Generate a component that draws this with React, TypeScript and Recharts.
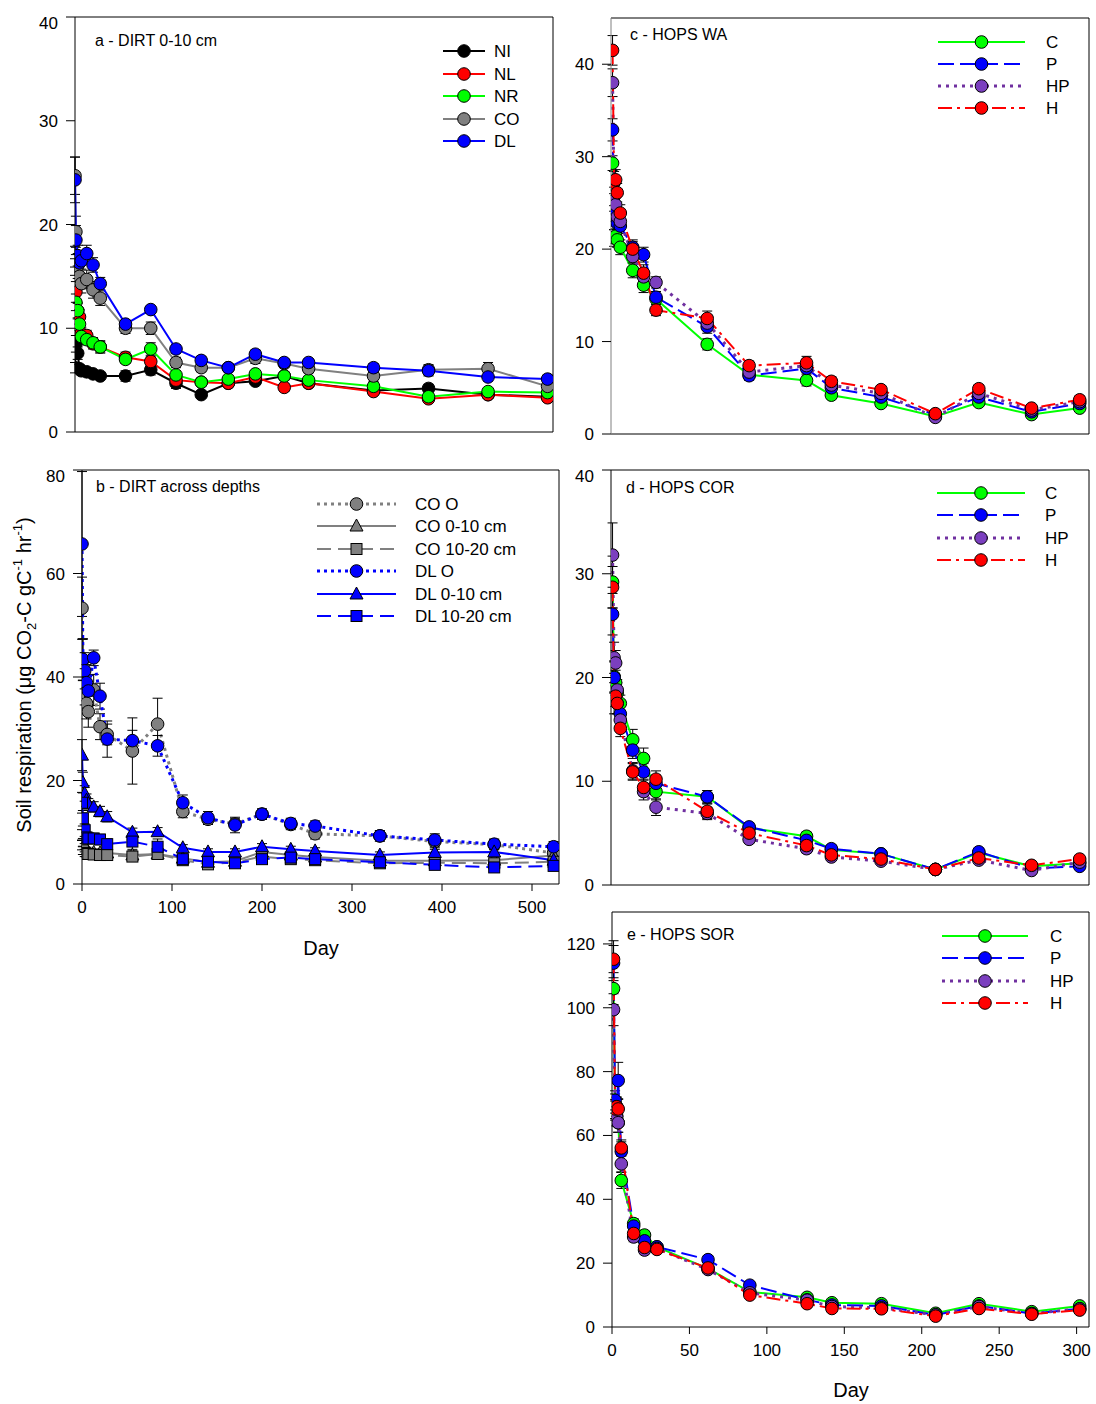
import React from 'react';
import { LineChart, Line, XAxis, YAxis, ErrorBar, ReferenceLine } from 'recharts';

// ---------- DIRT (panels a, b) ----------
const DIRT_DAYS = [0, 1, 3, 5, 7, 13, 20, 28, 56, 84, 112, 140, 170, 200, 232, 259, 331, 392, 458, 524];

const A_NI = [6.2, 8.5, 7.6, 6.1, 5.9, 5.8, 5.6, 5.4, 5.4, 6.0, 4.7, 3.6, 4.7, 4.9, 5.4, 4.7, 4.0, 4.2, 3.6, 3.4];
const A_NL = [16.9, 13.5, 11.7, 11.1, 9.5, 9.3, 8.5, 8.2, 7.2, 6.8, 5.0, 4.8, 4.7, 5.3, 4.3, 4.7, 3.9, 3.2, 3.6, 3.3];
const A_NR = [15.9, 12.5, 11.7, 10.4, 9.2, 8.9, 8.6, 8.2, 7.0, 8.0, 5.5, 4.8, 5.1, 5.6, 5.4, 5.0, 4.4, 3.4, 3.9, 3.8];
const A_CO = [24.7, 19.3, 16.0, 15.0, 14.3, 14.7, 13.7, 12.9, 10.0, 10.0, 6.7, 6.2, 6.2, 7.1, 6.6, 6.1, 5.4, 6.0, 6.1, 4.4];
const A_DL = [24.3, 18.5, 17.0, 16.3, 16.5, 17.2, 16.1, 14.3, 10.4, 11.8, 8.0, 6.9, 6.2, 7.5, 6.7, 6.7, 6.2, 5.9, 5.3, 5.1];

const A_NI_ERR = [0.5, 0.8, 0.6, 0.4, 0.4, 0.3, 0.3, 0.3, 0.5, 0.5, 0.5, 0.3, 0.3, 0.3, 0.3, 0.4, 0.4, 0.4, 0.3, 0.3];
const A_NL_ERR = [1.0, 1.0, 0.8, 0.7, 0.6, 0.5, 0.5, 0.5, 0.5, 0.5, 0.5, 0.3, 0.3, 0.3, 0.4, 0.3, 0.3, 0.3, 0.3, 0.3];
const A_NR_ERR = [0.8, 0.8, 0.7, 0.6, 0.5, 0.5, 0.5, 0.6, 0.4, 0.6, 0.4, 0.4, 0.3, 0.3, 0.4, 0.3, 0.4, 0.4, 0.3, 0.3];
const A_CO_ERR = [1.8, 1.5, 1.2, 1.0, 0.9, 0.9, 0.8, 0.7, 0.5, 0.6, 0.5, 0.4, 0.4, 0.5, 0.4, 0.4, 0.5, 0.5, 0.6, 0.4];
const A_DL_ERR = [2.2, 1.4, 1.0, 0.9, 0.8, 0.8, 0.7, 0.6, 0.4, 0.3, 0.4, 0.4, 0.3, 0.4, 0.3, 0.3, 0.4, 0.5, 0.4, 0.4];

const B_CO_O = [53.3, 43.3, 38.1, 34.9, 33.3, 37.5, 30.4, 28.9, 25.7, 30.9, 14.0, 12.5, 11.6, 13.5, 11.5, 9.7, 9.3, 8.2, 7.6, 6.0];
const B_CO_010 = [9.5, 8.0, 7.0, 6.5, 6.2, 6.1, 6.0, 6.0, 5.6, 5.8, 5.0, 4.2, 4.4, 6.2, 5.6, 5.2, 4.5, 4.5, 4.6, 5.5];
const B_CO_1020 = [7.5, 6.5, 6.0, 5.8, 5.8, 5.7, 5.6, 5.6, 5.3, 5.8, 4.6, 3.8, 4.2, 5.3, 4.8, 4.6, 4.0, 4.1, 4.0, 4.3];
const B_DL_O = [65.7, 43.4, 41.2, 38.9, 37.3, 43.7, 36.3, 28.0, 27.7, 26.7, 15.7, 12.8, 11.4, 13.5, 11.7, 11.2, 9.3, 8.5, 7.7, 7.2];
const B_DL_010 = [24.9, 19.6, 17.5, 16.2, 15.5, 14.9, 14.0, 13.0, 10.0, 10.1, 7.0, 6.2, 6.2, 7.2, 6.7, 6.4, 5.6, 6.1, 6.2, 4.6];
const B_DL_1020 = [15.7, 12.7, 10.4, 9.0, 8.8, 8.8, 8.6, 7.7, 8.2, 7.2, 4.8, 4.3, 4.0, 4.8, 5.1, 4.8, 4.2, 3.7, 3.2, 3.5];

const B_CO_O_ERR = [6.0, 4.0, 3.5, 3.0, 3.0, 3.0, 2.5, 2.0, 6.4, 5.0, 1.2, 1.0, 1.0, 1.0, 1.0, 1.0, 1.0, 1.2, 1.0, 1.0];
const B_CO_010_ERR = [1.0, 0.8, 0.8, 0.6, 0.6, 0.6, 0.6, 0.6, 0.8, 0.8, 0.6, 0.6, 0.6, 0.6, 0.6, 0.6, 0.6, 0.6, 0.6, 0.6];
const B_CO_1020_ERR = [0.9, 0.8, 0.7, 0.6, 0.6, 0.6, 0.6, 0.6, 0.8, 0.8, 0.6, 0.6, 0.6, 0.6, 0.6, 0.6, 0.6, 0.6, 0.6, 0.6];
const B_DL_O_ERR = [14.0, 4.0, 3.5, 3.5, 3.0, 1.5, 2.5, 3.5, 2.0, 2.0, 1.5, 1.2, 1.5, 1.0, 1.0, 1.0, 1.0, 1.2, 1.0, 1.0];
const B_DL_010_ERR = [3.0, 2.0, 1.5, 1.2, 1.0, 1.0, 1.0, 1.0, 0.8, 0.8, 0.6, 0.6, 0.6, 0.6, 0.6, 0.6, 0.6, 0.6, 0.6, 0.6];
const B_DL_1020_ERR = [2.0, 1.5, 1.2, 1.0, 1.0, 1.0, 1.0, 1.0, 1.5, 1.5, 0.6, 0.6, 0.6, 0.6, 0.6, 0.6, 0.6, 0.6, 0.6, 0.6];

// ---------- HOPS (panels c, d, e) ----------
const HOPS_DAYS = [1, 2, 3, 4, 6, 14, 21, 29, 62, 89, 126, 142, 174, 209, 237, 271, 302];

const C_C = [29.3, 21.2, 21.4, 21.0, 20.2, 17.7, 16.1, 14.6, 9.7, 6.4, 5.8, 4.2, 3.3, 1.9, 3.4, 2.1, 2.8];
const C_P = [32.9, 23.1, 23.9, 22.8, 22.5, 20.2, 19.4, 14.8, 11.6, 6.3, 7.1, 5.0, 4.0, 2.1, 4.0, 2.4, 3.3];
const C_HP = [38.0, 25.7, 24.8, 23.5, 23.0, 19.2, 17.0, 16.4, 12.0, 6.7, 7.4, 5.3, 4.4, 1.8, 4.4, 2.6, 3.5];
const C_H = [41.5, 27.2, 27.5, 26.1, 23.9, 20.0, 17.4, 13.4, 12.5, 7.4, 7.7, 5.7, 4.8, 2.2, 4.9, 2.8, 3.7];
const C_C_ERR = [0.8, 0.9, 0.8, 0.8, 0.8, 0.8, 0.8, 0.8, 0.6, 0.5, 0.6, 0.4, 0.3, 0.3, 0.3, 0.3, 0.3];
const C_P_ERR = [1.2, 1.0, 0.9, 0.9, 0.8, 0.8, 0.8, 0.6, 0.7, 0.5, 0.5, 0.5, 0.4, 0.3, 0.4, 0.3, 0.3];
const C_HP_ERR = [1.5, 1.0, 1.0, 0.9, 0.9, 0.7, 0.8, 0.6, 0.7, 0.5, 0.6, 0.5, 0.4, 0.3, 0.4, 0.3, 0.3];
const C_H_ERR = [1.6, 1.2, 1.1, 1.0, 0.9, 0.8, 0.9, 0.6, 0.8, 0.5, 0.7, 0.5, 0.4, 0.3, 0.4, 0.3, 0.4];

const D_C = [29.2, 20.1, 19.5, 18.5, 17.5, 14.0, 12.2, 9.0, 8.5, 5.5, 4.7, 3.4, 3.0, 1.5, 3.1, 1.8, 2.1];
const D_P = [26.1, 20.0, 18.4, 17.5, 16.5, 13.0, 10.9, 9.8, 8.5, 5.6, 4.3, 3.5, 3.0, 1.5, 3.2, 1.6, 1.8];
const D_HP = [31.8, 21.9, 21.4, 18.8, 15.9, 11.0, 9.0, 7.5, 6.9, 4.4, 3.5, 2.7, 2.3, 1.5, 2.4, 1.4, 2.2];
const D_H = [28.7, 18.0, 18.2, 17.5, 15.1, 10.9, 9.4, 10.2, 7.1, 5.0, 3.8, 2.9, 2.5, 1.5, 2.6, 1.9, 2.5];
const D_C_ERR = [2.5, 1.5, 1.2, 1.0, 0.8, 1.0, 1.0, 0.8, 0.6, 0.4, 0.4, 0.3, 0.3, 0.2, 0.3, 0.2, 0.2];
const D_P_ERR = [2.0, 1.5, 1.2, 1.0, 0.8, 0.8, 0.8, 0.8, 0.6, 0.4, 0.4, 0.3, 0.3, 0.2, 0.3, 0.2, 0.2];
const D_HP_ERR = [3.1, 1.5, 1.2, 1.0, 0.8, 0.8, 0.8, 0.8, 0.6, 0.4, 0.4, 0.3, 0.3, 0.2, 0.3, 0.2, 0.2];
const D_H_ERR = [2.0, 1.5, 1.0, 1.0, 0.8, 0.8, 0.8, 0.8, 0.7, 0.4, 0.4, 0.3, 0.3, 0.2, 0.3, 0.2, 0.2];

const E_C = [106.0, 70.0, 66.0, 64.0, 45.9, 32.4, 28.8, 25.1, 18.3, 11.0, 9.3, 7.6, 7.3, 4.3, 7.3, 4.8, 6.6];
const E_P = [114.0, 71.0, 69.0, 77.2, 55.0, 31.6, 27.0, 25.1, 21.1, 13.1, 8.5, 6.9, 6.6, 3.8, 6.6, 4.2, 5.7];
const E_HP = [99.4, 67.8, 66.0, 64.0, 51.1, 28.2, 24.1, 24.6, 18.0, 10.7, 8.4, 6.4, 6.0, 3.8, 6.4, 4.2, 5.7];
const E_H = [115.2, 68.3, 69.0, 68.3, 56.1, 29.3, 24.9, 24.3, 18.5, 10.0, 7.3, 5.8, 5.7, 3.4, 5.8, 4.0, 5.3];
const E_C_ERR = [5.0, 3.0, 3.0, 3.0, 2.5, 1.5, 1.2, 1.0, 1.0, 0.8, 0.8, 0.6, 0.6, 0.4, 0.5, 0.4, 0.5];
const E_P_ERR = [5.5, 3.0, 3.0, 5.7, 3.0, 1.5, 1.2, 1.0, 1.2, 1.0, 0.8, 0.6, 0.6, 0.4, 0.5, 0.4, 0.5];
const E_HP_ERR = [5.0, 3.0, 3.0, 3.0, 2.5, 1.5, 1.2, 1.0, 1.0, 0.8, 0.8, 0.6, 0.6, 0.4, 0.5, 0.4, 0.5];
const E_H_ERR = [5.8, 3.0, 3.0, 3.0, 2.5, 1.5, 1.2, 1.0, 1.0, 0.8, 0.8, 0.6, 0.6, 0.4, 0.5, 0.4, 0.5];

// ---------- Ticks ----------
const DIRT_X_TICKS = [0, 100, 200, 300, 400, 500];
const HOPS_X_TICKS = [0, 50, 100, 150, 200, 250, 300];
const Y_TICKS_40 = [0, 10, 20, 30, 40];
const Y_TICKS_80 = [0, 20, 40, 60, 80];
const Y_TICKS_120 = [0, 20, 40, 60, 80, 100, 120];

const FONT = '"Liberation Sans", Arial, Helvetica, sans-serif';

const GREEN = '#00FF00';
const BLUE = '#0000FF';
const RED = '#FF0000';
const GRAY = '#808080';
const PURPLE = '#7030A0';

type Shape = 'circle' | 'triangle' | 'square';
type Series = {
  key: string;
  name: string;
  values: number[];
  errors: number[];
  color: string;
  fill?: string;
  dash?: string;
  width?: number;
  shape: Shape;
};

function Marker({ cx, cy, shape, fill }: { cx: number; cy: number; shape: Shape; fill: string }) {
  if (shape === 'triangle') {
    return (
      <polygon
        points={`${cx},${cy - 7} ${cx - 6.5},${cy + 5} ${cx + 6.5},${cy + 5}`}
        fill={fill}
        stroke="#000"
        strokeWidth={1}
      />
    );
  }
  if (shape === 'square') {
    return <rect x={cx - 5.5} y={cy - 5.5} width={11} height={11} fill={fill} stroke="#000" strokeWidth={1} />;
  }
  return <circle cx={cx} cy={cy} r={6.3} fill={fill} stroke="#000" strokeWidth={1} />;
}

const makeDot = (s: Series) => (props: any) => {
  const { cx, cy, index } = props;
  const k = `${s.key}-dot-${index}`;
  if (cx == null || cy == null || isNaN(cx) || isNaN(cy)) return <g key={k} />;
  return (
    <g key={k}>
      <Marker cx={cx} cy={cy} shape={s.shape} fill={s.fill || s.color} />
    </g>
  );
};

type PanelProps = {
  left: number;
  top: number;
  w: number;
  h: number;
  days: number[];
  series: Series[];
  xDomain: [number, number];
  xTicks: number[];
  xLabels: boolean;
  yDomain: [number, number];
  yTicks: number[];
  axisColor?: string;
};

function Panel(p: PanelProps) {
  const YW = 60;
  const XH = 40;
  const T = 4;
  const R = 8;
  const data = p.days.map((d, i) => {
    const row: any = { day: d };
    p.series.forEach((s) => {
      row[s.key] = s.values[i];
      row[s.key + '_e'] = s.errors[i];
    });
    return row;
  });
  const ax = p.axisColor || '#000';
  const tickStyle = { fontSize: 17, fill: '#000', fontFamily: FONT };
  return (
    <div style={{ position: 'absolute', left: p.left - YW, top: p.top - T }}>
      <LineChart width={YW + p.w + R} height={T + p.h + XH} data={data} margin={{ top: T, right: R, bottom: 0, left: 0 }}>
        <XAxis
          dataKey="day"
          type="number"
          domain={p.xDomain}
          ticks={p.xTicks}
          allowDataOverflow
          tick={p.xLabels ? tickStyle : false}
          tickSize={7}
          tickMargin={10}
          height={XH}
          stroke="#000"
          tickLine={{ stroke: '#000' }}
          axisLine={{ stroke: '#000' }}
        />
        <YAxis
          type="number"
          domain={p.yDomain}
          ticks={p.yTicks}
          allowDataOverflow
          width={YW}
          tickSize={9}
          tickMargin={8}
          tick={tickStyle}
          tickLine={{ stroke: '#000' }}
          axisLine={{ stroke: ax }}
        />
        <ReferenceLine y={p.yDomain[1]} stroke="#000" strokeWidth={1} ifOverflow="visible" />
        <ReferenceLine x={p.xDomain[1]} stroke="#000" strokeWidth={1} ifOverflow="visible" />
        {p.series.map((s) => (
          <Line
            key={s.key}
            type="linear"
            dataKey={s.key}
            name={s.name}
            stroke={s.color}
            strokeWidth={s.width || 2}
            strokeDasharray={s.dash}
            dot={makeDot(s)}
            activeDot={false}
            isAnimationActive={false}
          >
            <ErrorBar
              dataKey={s.key + '_e'}
              direction="y"
              width={5}
              stroke="#000"
              strokeWidth={1}
              isAnimationActive={false}
            />
          </Line>
        ))}
      </LineChart>
    </div>
  );
}

// ---------- series definitions ----------
const SERIES_A: Series[] = [
  { key: 'NI', name: 'NI', values: A_NI, errors: A_NI_ERR, color: '#000000', shape: 'circle' },
  { key: 'NL', name: 'NL', values: A_NL, errors: A_NL_ERR, color: RED, shape: 'circle' },
  { key: 'NR', name: 'NR', values: A_NR, errors: A_NR_ERR, color: GREEN, shape: 'circle' },
  { key: 'CO', name: 'CO', values: A_CO, errors: A_CO_ERR, color: GRAY, shape: 'circle' },
  { key: 'DL', name: 'DL', values: A_DL, errors: A_DL_ERR, color: BLUE, shape: 'circle' },
];

const SERIES_B: Series[] = [
  { key: 'COO', name: 'CO O', values: B_CO_O, errors: B_CO_O_ERR, color: GRAY, dash: '3 4', width: 3, shape: 'circle' },
  { key: 'CO010', name: 'CO 0-10 cm', values: B_CO_010, errors: B_CO_010_ERR, color: GRAY, width: 2, shape: 'triangle' },
  { key: 'CO1020', name: 'CO 10-20 cm', values: B_CO_1020, errors: B_CO_1020_ERR, color: GRAY, dash: '14 7', width: 2, shape: 'square' },
  { key: 'DLO', name: 'DL O', values: B_DL_O, errors: B_DL_O_ERR, color: BLUE, dash: '3 4', width: 3, shape: 'circle' },
  { key: 'DL010', name: 'DL 0-10 cm', values: B_DL_010, errors: B_DL_010_ERR, color: BLUE, width: 2, shape: 'triangle' },
  { key: 'DL1020', name: 'DL 10-20 cm', values: B_DL_1020, errors: B_DL_1020_ERR, color: BLUE, dash: '14 7', width: 2, shape: 'square' },
];

const hopsSeries = (c: number[], p: number[], hp: number[], h: number[], ce: number[], pe: number[], hpe: number[], he: number[]): Series[] => [
  { key: 'C', name: 'C', values: c, errors: ce, color: GREEN, shape: 'circle' },
  { key: 'P', name: 'P', values: p, errors: pe, color: BLUE, dash: '16 6', shape: 'circle' },
  { key: 'HP', name: 'HP', values: hp, errors: hpe, color: PURPLE, dash: '3 5', width: 3, shape: 'circle', fill: '#7B3FBF' },
  { key: 'H', name: 'H', values: h, errors: he, color: RED, dash: '14 5 3 5', shape: 'circle' },
];

const SERIES_C = hopsSeries(C_C, C_P, C_HP, C_H, C_C_ERR, C_P_ERR, C_HP_ERR, C_H_ERR);
const SERIES_D = hopsSeries(D_C, D_P, D_HP, D_H, D_C_ERR, D_P_ERR, D_HP_ERR, D_H_ERR);
const SERIES_E = hopsSeries(E_C, E_P, E_HP, E_H, E_C_ERR, E_P_ERR, E_HP_ERR, E_H_ERR);

function LegendBlock({ series, x0, x1, xt, ys, fontSize }: { series: Series[]; x0: number; x1: number; xt: number; ys: number[]; fontSize: number }) {
  const xm = (x0 + x1) / 2;
  return (
    <g>
      {series.map((s, i) => (
        <g key={s.key}>
          <line x1={x0} x2={x1} y1={ys[i]} y2={ys[i]} stroke={s.color} strokeWidth={s.width || 2} strokeDasharray={s.dash} />
          <Marker cx={xm} cy={ys[i]} shape={s.shape} fill={s.fill || s.color} />
          <text x={xt} y={ys[i]} dominantBaseline="central" fontSize={fontSize} fontFamily={FONT} fill="#000">
            {s.name}
          </text>
        </g>
      ))}
    </g>
  );
}

function Overlay() {
  const t = { fontFamily: FONT, fill: '#000' } as any;
  return (
    <svg width={1096} height={1404} style={{ position: 'absolute', left: 0, top: 0, pointerEvents: 'none' }}>
      <text x={95} y={40} dominantBaseline="central" fontSize={16} {...t}>a - DIRT 0-10 cm</text>
      <text x={96} y={486} dominantBaseline="central" fontSize={16} {...t}>b - DIRT across depths</text>
      <text x={630} y={34} dominantBaseline="central" fontSize={16} {...t}>c - HOPS WA</text>
      <text x={626} y={487} dominantBaseline="central" fontSize={16} {...t}>d - HOPS COR</text>
      <text x={627} y={934} dominantBaseline="central" fontSize={16} {...t}>e - HOPS SOR</text>

      <LegendBlock series={SERIES_A} x0={443} x1={485} xt={494} ys={[51, 74, 96, 119, 141]} fontSize={17} />
      <LegendBlock series={SERIES_B} x0={317} x1={396} xt={415} ys={[504, 526, 549, 571, 594, 616]} fontSize={17} />
      <LegendBlock series={SERIES_C} x0={938} x1={1025} xt={1046} ys={[42, 64, 86, 108]} fontSize={17} />
      <LegendBlock series={SERIES_D} x0={937} x1={1025} xt={1045} ys={[493, 515, 538, 560]} fontSize={17} />
      <LegendBlock series={SERIES_E} x0={942} x1={1028} xt={1050} ys={[936, 958, 981, 1003]} fontSize={17} />

      <text x={321} y={948} textAnchor="middle" dominantBaseline="central" fontSize={20} {...t}>Day</text>
      <text x={851} y={1390} textAnchor="middle" dominantBaseline="central" fontSize={20} {...t}>Day</text>

      <text transform="translate(31,675) rotate(-90)" textAnchor="middle" fontSize={20} {...t}>
        Soil respiration (μg CO
        <tspan dy={5} fontSize={13}>2</tspan>
        <tspan dy={-5}>-C gC</tspan>
        <tspan dy={-9} fontSize={13}>-1</tspan>
        <tspan dy={9}> hr</tspan>
        <tspan dy={-9} fontSize={13}>-1</tspan>
        <tspan dy={9}>)</tspan>
      </text>
    </svg>
  );
}

export default function App() {
  return (
    <div style={{ position: 'absolute', left: 0, top: 0, width: 1096, height: 1404, background: '#fff', fontFamily: FONT }}>
      <Panel left={75} top={17} w={478} h={415} days={DIRT_DAYS} series={SERIES_A} xDomain={[0, 530]} xTicks={DIRT_X_TICKS} xLabels={false} yDomain={[0, 40]} yTicks={Y_TICKS_40} />
      <Panel left={82} top={470} w={477} h={414} days={DIRT_DAYS} series={SERIES_B} xDomain={[0, 530]} xTicks={DIRT_X_TICKS} xLabels={true} yDomain={[0, 80]} yTicks={Y_TICKS_80} />
      <Panel left={611} top={18} w={478} h={416} days={HOPS_DAYS} series={SERIES_C} xDomain={[0, 308]} xTicks={HOPS_X_TICKS} xLabels={false} yDomain={[0, 45]} yTicks={Y_TICKS_40} axisColor="#808080" />
      <Panel left={611} top={470} w={478} h={415} days={HOPS_DAYS} series={SERIES_D} xDomain={[0, 308]} xTicks={HOPS_X_TICKS} xLabels={false} yDomain={[0, 40]} yTicks={Y_TICKS_40} />
      <Panel left={612} top={912} w={477} h={415} days={HOPS_DAYS} series={SERIES_E} xDomain={[0, 308]} xTicks={HOPS_X_TICKS} xLabels={true} yDomain={[0, 130]} yTicks={Y_TICKS_120} />
      <Overlay />
    </div>
  );
}
